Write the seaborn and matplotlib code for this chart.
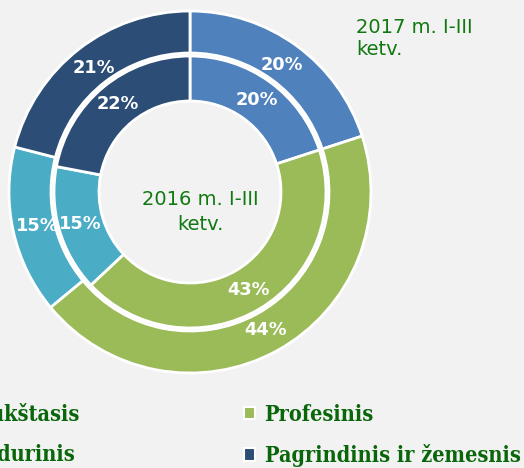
import matplotlib
matplotlib.use("Agg")
import matplotlib.pyplot as plt
import seaborn as sns
from matplotlib.patches import Patch

# ---- data ----
categories = ["Aukštasis", "Profesinis", "Vidurinis", "Pagrindinis ir žemesnis"]
values_2017 = [20, 44, 15, 21]   # outer ring
values_2016 = [20, 43, 15, 22]   # inner ring
label_2017 = "2017 m. I-III\nketv."
label_2016 = "2016 m. I-III\nketv."
colors_hex = ["#4F81BD", "#9BBB59", "#4BACC6", "#2C4D75"]

sns.set_theme(style="white", rc={"figure.facecolor": "#F2F2F2",
                                 "axes.facecolor": "#F2F2F2",
                                 "savefig.facecolor": "#F2F2F2"})
plt.rcParams["font.family"] = ["DejaVu Sans"]
palette = sns.color_palette(colors_hex)

W, H = 524, 468
fig = plt.figure(figsize=(W / 100, H / 100), dpi=100)
ax = fig.add_axes([0, 0, 1, 1])
cx, cy = 190, H - 192


def pct(p):
    return f"{p:.0f}%"


text_kw = dict(color="white", fontsize=12.8, fontweight="bold")
ax.pie(values_2017, colors=palette, radius=181, center=(cx, cy), startangle=90,
       counterclock=False, wedgeprops=dict(width=42, edgecolor="white", linewidth=2),
       autopct=pct, pctdistance=157 / 181, textprops=text_kw)
ax.pie(values_2016, colors=palette, radius=136, center=(cx, cy), startangle=90,
       counterclock=False, wedgeprops=dict(width=45, edgecolor="white", linewidth=2),
       autopct=pct, pctdistance=114 / 136, textprops=text_kw)
ax.set_xlim(0, W)
ax.set_ylim(0, H)
ax.set_aspect("equal")
ax.axis("off")

green = "#107810"
ax.text(200, H - 212, label_2016, ha="center", va="center", color=green,
        fontsize=14, linespacing=1.4)
ax.text(356, H - 55, label_2017, ha="left", va="baseline", color=green,
        fontsize=14, linespacing=1.2)

handles = [Patch(facecolor=c, edgecolor="white", linewidth=1.5) for c in palette]
order = [0, 2, 1, 3]
fig.legend([handles[i] for i in order], [categories[i] for i in order], ncol=2,
           loc="center left", bbox_to_anchor=(-56 / W, 1 - 435.5 / H), frameon=False,
           borderpad=0, handlelength=0.5, handleheight=0.5, handletextpad=0.45,
           columnspacing=7.58, labelspacing=0.86,
           prop=dict(family="DejaVu Serif", weight="bold", size=15.6, stretch="condensed"),
           labelcolor="#0A660A")

fig.savefig("out.png", dpi=100, facecolor="#F2F2F2")
